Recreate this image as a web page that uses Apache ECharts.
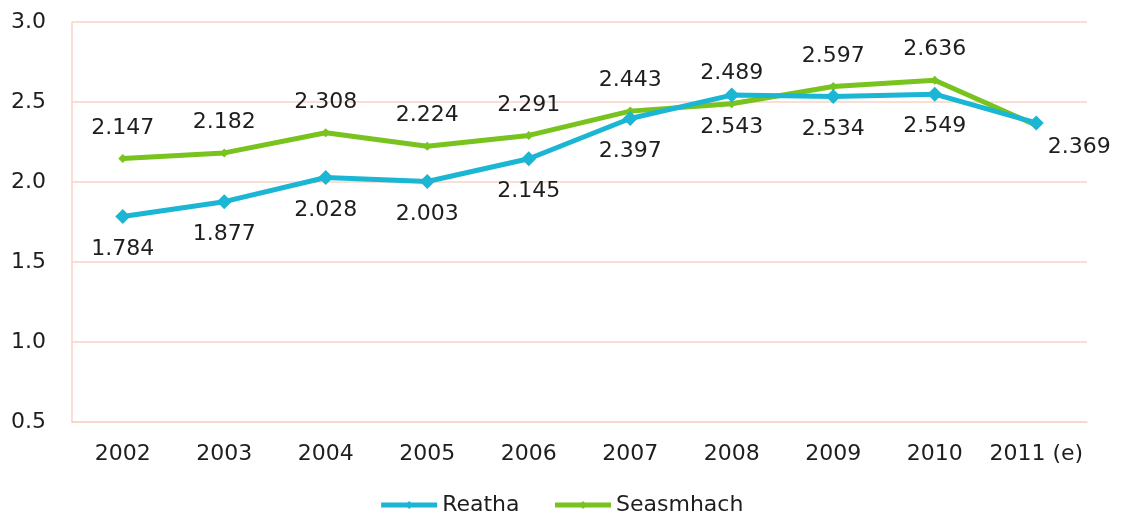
<!DOCTYPE html>
<html>
<head>
<meta charset="utf-8">
<script src="https://cdn.jsdelivr.net/npm/echarts@6/dist/echarts.min.js"></script>
<style>
  html, body { margin: 0; padding: 0; background: #fff; }
  #chart { width: 1122px; height: 525px; }
</style>
</head>
<body>
<div id="chart"></div>
<script>
const years = ['2002', '2003', '2004', '2005', '2006', '2007', '2008', '2009', '2010', '2011 (e)'];
const reatha = [1.784, 1.877, 2.028, 2.003, 2.145, 2.397, 2.543, 2.534, 2.549, 2.369];
const seasmhach = [2.147, 2.182, 2.308, 2.224, 2.291, 2.443, 2.489, 2.597, 2.636, 2.355];
const yTicks = [0.5, 1.0, 1.5, 2.0, 2.5, 3.0];

const FONT = 'DejaVu Sans';
const gridColor = '#f9d3c6';
const textColor = '#1e1e1e';

const chart = echarts.init(document.getElementById('chart'));

// last point only gets one label (to the lower right)
const reathaData = reatha.map((v, i) => {
  if (i === reatha.length - 1) {
    return { value: v, label: { position: 'right', distance: 4, offset: [0, 24] } };
  }
  return v;
});
const seasData = seasmhach.map((v, i) => {
  if (i === seasmhach.length - 1) return { value: v, label: { show: false } };
  return v;
});

chart.setOption({
  animation: false,
  grid: { left: 72, right: 35, top: 22, bottom: 103 },
  legend: {
    bottom: 4,
    left: 'center',
    itemWidth: 56,
    itemHeight: 10,
    itemGap: 33,
    lineStyle: { width: 5 },
    textStyle: { fontFamily: FONT, fontSize: 22, color: textColor },
    data: ['Reatha', 'Seasmhach']
  },
  xAxis: {
    type: 'category',
    data: years,
    boundaryGap: true,
    axisLine: { lineStyle: { color: gridColor, width: 1.5 } },
    axisTick: { show: false },
    axisLabel: { fontFamily: FONT, fontSize: 22, color: textColor, margin: 21, interval: 0 }
  },
  yAxis: {
    type: 'value',
    min: yTicks[0],
    max: yTicks[yTicks.length - 1],
    interval: 0.5,
    axisLine: { show: true, lineStyle: { color: gridColor, width: 1.5 } },
    axisTick: { show: false },
    splitLine: { lineStyle: { color: gridColor, width: 1.5 } },
    axisLabel: {
      fontFamily: FONT, fontSize: 22, color: textColor, margin: 26,
      formatter: v => v.toFixed(1)
    }
  },
  series: [
    {
      name: 'Reatha',
      type: 'line',
      data: reathaData,
      z: 3,
      symbol: 'diamond',
      symbolSize: 15,
      itemStyle: { color: '#1ab6d3' },
      lineStyle: { color: '#1ab6d3', width: 5 },
      label: {
        show: true, position: 'bottom', distance: 14,
        fontFamily: FONT, fontSize: 22, color: textColor,
        formatter: p => p.value.toFixed(3)
      }
    },
    {
      name: 'Seasmhach',
      type: 'line',
      data: seasData,
      z: 2,
      symbol: 'diamond',
      symbolSize: 9,
      itemStyle: { color: '#78c31e' },
      lineStyle: { color: '#78c31e', width: 5 },
      label: {
        show: true, position: 'top', distance: 15,
        fontFamily: FONT, fontSize: 22, color: textColor,
        formatter: p => p.value.toFixed(3)
      }
    }
  ]
});
</script>
</body>
</html>
